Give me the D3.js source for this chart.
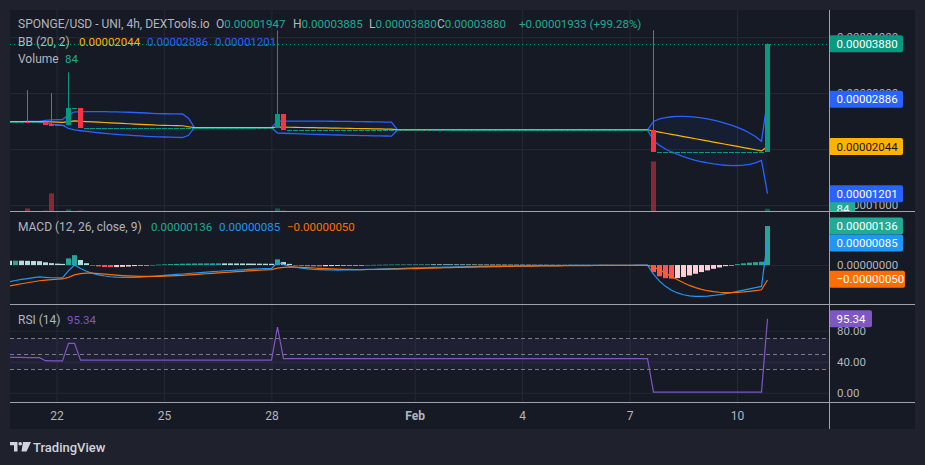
<!DOCTYPE html>
<html>
<head>
<meta charset="utf-8">
<title>SPONGE/USD</title>
<script src="https://cdn.jsdelivr.net/npm/d3@7"></script>
<style>
  body { margin: 0; background: #1f222d; }
  svg { display: block; }
  text { font-family: Roboto, "Noto Sans", sans-serif; }
</style>
</head>
<body>
<svg id="chart" width="925" height="465"></svg>
<script>
// 4h candles that actually traded; the bars in between had no trades and stay flat
const candleTimes = ["2024-01-20 16:00", "2024-01-21 04:00", "2024-01-21 16:00", "2024-01-21 20:00",
  "2024-01-22 08:00", "2024-01-22 16:00", "2024-01-28 04:00", "2024-01-28 08:00",
  "2024-02-07 16:00", "2024-02-10 20:00"];
const opens  = [0.00002490, 0.00002490, 0.00002485, 0.00002455, 0.00002420, 0.00002730, 0.00002380, 0.00002625, 0.00002340, 0.00001947];
const highs  = [0.00002490, 0.00003050, 0.00002485, 0.00003000, 0.00003370, 0.00002730, 0.00004120, 0.00002625, 0.00004120, 0.00003885];
const lows   = [0.00002490, 0.00002485, 0.00002430, 0.00002425, 0.00002420, 0.00002380, 0.00002380, 0.00002340, 0.00001947, 0.00003880];
const closes = [0.00002490, 0.00002485, 0.00002430, 0.00002425, 0.00002730, 0.00002380, 0.00002625, 0.00002340, 0.00001947, 0.00003880];
const volumes = [0, 95, 30, 560, 60, 30, 95, 30, 1550, 84];

const macdStart = { fast: 0.00002494, slow: 0.00002552, signal: -0.00000073 };
const rsiStart = { gain: 0.00000030, loss: 0.00000036 };

// read-outs printed in the legends
const symbolTitle = "SPONGE/USD - UNI, 4h, DEXTools.io";
const macdReadout = [0.00000136, 0.00000085, -0.00000050]; // histogram, macd, signal
const rsiReadout = 95.34;

// axes
const dayTicks = ["2024-01-22", "2024-01-25", "2024-01-28", "2024-02-01", "2024-02-04", "2024-02-07", "2024-02-10"];
const dayLabels = ["22", "25", "28", "Feb", "4", "7", "10"];
const priceTicks = [0.00001, 0.00002, 0.00003, 0.00004];
const macdTicks = [0];
const rsiTicks = [0, 40, 80];
const rsiLevels = [70, 50, 30];

const colors = {
  up: "#089981", down: "#f23645", upVol: "rgba(8,153,129,0.5)", downVol: "rgba(242,54,69,0.5)",
  band: "#2962ff", basis: "#ffb300", macd: "#2196f3", signal: "#ff6d00", rsi: "#7e57c2",
  grid: "#252934", text: "#b2b5be", sep: "#9fa2ab", teal: "#22ab94"
};
const numSize = 11.5;

const plot = { left: 10, right: 829, edge: 915 };
const panes = {
  main: { top: 10, bottom: 211.5 },
  macd: { top: 212, bottom: 304 },
  rsi: { top: 304, bottom: 402 }
};

const svg = d3.select("#chart");
const parseTime = d3.utcParse("%Y-%m-%d %H:%M");
const parseDay = d3.utcParse("%Y-%m-%d");
const fmt = d3.format(".8f");
const step = 4 * 3600 * 1000;

// build the full bar series: traded candles plus flat no-trade bars
const traded = new Map(candleTimes.map((t, i) => [+parseTime(t), i]));
const bars = [];
let prevClose = closes[0];
for (let t = +parseTime(candleTimes[0]); t <= +parseTime(candleTimes[candleTimes.length - 1]); t += step) {
  const k = traded.get(t);
  if (k !== undefined) {
    bars.push({ t: new Date(t), o: opens[k], h: highs[k], l: lows[k], c: closes[k], v: volumes[k] });
    prevClose = closes[k];
  } else {
    bars.push({ t: new Date(t), o: prevClose, h: prevClose, l: prevClose, c: prevClose, v: 0 });
  }
}
const closeSeries = bars.map(d => d.c);

// Bollinger Bands (20, 2)
const bb = closeSeries.map((_, i) => {
  const w = d3.range(i - 19, i + 1).map(j => closeSeries[Math.max(j, 0)]);
  const m = d3.mean(w);
  const sd = Math.sqrt(d3.mean(w, v => (v - m) ** 2));
  return { t: bars[i].t, basis: m, upper: m + 2 * sd, lower: m - 2 * sd };
});

// MACD (12, 26, 9)
function ema(vals, n, init) {
  const a = 2 / (n + 1);
  let e = init;
  return vals.map((v, i) => (i === 0 ? e : (e = e + a * (v - e))));
}
const fast = ema(closeSeries, 12, macdStart.fast);
const slow = ema(closeSeries, 26, macdStart.slow);
const macdLine = fast.map((f, i) => f - slow[i]);
const signalLine = ema(macdLine, 9, macdStart.signal);
const hist = macdLine.map((m, i) => m - signalLine[i]);

// RSI (14)
let avgGain = rsiStart.gain, avgLoss = rsiStart.loss;
const rsi = closeSeries.map((c, i) => {
  if (i > 0) {
    const d = c - closeSeries[i - 1];
    avgGain = (13 * avgGain + Math.max(d, 0)) / 14;
    avgLoss = (13 * avgLoss + Math.max(-d, 0)) / 14;
  }
  return 100 * avgGain / (avgGain + avgLoss);
});

// scales
const x = d3.scaleUtc().domain([parseDay("2024-01-22"), parseDay("2024-02-10")]).range([56.5, 737]);
const yPrice = d3.scaleLinear().domain([0.00000875, 0.00004482]).range([212, 10]);
const yVol = d3.scaleLinear().domain([0, 6200]).range([211.5, 11.5]);
const yMacd = d3.scaleLinear().domain([-0.00000136, 0.00000185]).range([304, 212]);
const yRsi = d3.scaleLinear().domain([0, 100]).range([392.7, 315.2]);
const tickDates = dayTicks.map(parseDay);
const barW = 5;
const cx = d => Math.round(x(d)) + 0.5;

const lastBar = bars[bars.length - 1];
const prevBar = bars[bars.length - 2];
const lastBB = bb[bb.length - 1];

// backgrounds
svg.append("rect").attr("width", 925).attr("height", 465).attr("fill", "#1f222d");
svg.append("rect").attr("x", plot.left).attr("y", 10).attr("width", plot.edge - plot.left).attr("height", 419)
  .attr("fill", "#161a25");

// clip paths
const defs = svg.append("defs");
Object.entries(panes).forEach(([key, p]) => {
  defs.append("clipPath").attr("id", `plot-${key}`).append("rect")
    .attr("x", plot.left).attr("y", p.top).attr("width", plot.right - plot.left).attr("height", p.bottom - p.top);
  defs.append("clipPath").attr("id", `axis-${key}`).append("rect")
    .attr("x", plot.right).attr("y", p.top).attr("width", plot.edge - plot.right).attr("height", p.bottom - p.top);
});

// grids
function grid(pane, y, ticks) {
  const g = svg.append("g").attr("clip-path", `url(#plot-${pane})`);
  const p = panes[pane];
  g.append("g").attr("transform", `translate(0,${p.bottom})`)
    .call(d3.axisBottom(x).tickValues(tickDates).tickSize(-(p.bottom - p.top)).tickFormat(""));
  if (ticks.length) {
    g.append("g").attr("transform", `translate(${plot.left},0)`)
      .call(d3.axisLeft(y).tickValues(ticks).tickSize(-(plot.right - plot.left)).tickFormat(""));
  }
  g.selectAll(".domain").remove();
  g.selectAll("line").attr("stroke", colors.grid);
}
grid("main", yPrice, priceTicks);
grid("macd", yMacd, macdTicks);
grid("rsi", yRsi, rsiTicks);

// ---- main pane ----
const main = svg.append("g").attr("clip-path", "url(#plot-main)");

main.selectAll(".vol").data(bars.filter(d => d.v > 0)).join("rect")
  .attr("x", d => cx(d.t) - barW / 2).attr("width", barW)
  .attr("y", d => yVol(d.v)).attr("height", d => yVol(0) - yVol(d.v))
  .attr("fill", d => (d.c >= d.o ? colors.upVol : colors.downVol));

main.append("path").datum(bb)
  .attr("d", d3.area().x(d => cx(d.t)).y0(d => yPrice(d.lower)).y1(d => yPrice(d.upper)))
  .attr("fill", "rgba(41,98,255,0.06)");
["upper", "lower"].forEach(k => {
  main.append("path").datum(bb)
    .attr("d", d3.line().x(d => cx(d.t)).y(d => yPrice(d[k])))
    .attr("fill", "none").attr("stroke", colors.band).attr("stroke-width", 1.3);
});
main.append("path").datum(bb)
  .attr("d", d3.line().x(d => cx(d.t)).y(d => yPrice(d.basis)))
  .attr("fill", "none").attr("stroke", colors.basis).attr("stroke-width", 1.2);

const candle = main.selectAll(".candle").data(bars).join("g");
// wicks as 1px rects so they stay solid
candle.filter(d => d.h > Math.max(d.o, d.c) || d.l < Math.min(d.o, d.c)).append("rect")
  .attr("x", d => cx(d.t) - 0.5).attr("width", 1)
  .attr("y", d => yPrice(d.h)).attr("height", d => yPrice(Math.min(d.l, d.o, d.c)) - yPrice(d.h))
  .attr("fill", d => (d.c >= d.o ? colors.up : colors.down));
candle.append("rect")
  .attr("x", d => cx(d.t) - barW / 2).attr("width", barW)
  .attr("y", d => Math.round(yPrice(Math.max(d.o, d.c))))
  .attr("height", d => Math.max(1, Math.round(yPrice(Math.min(d.o, d.c)) - yPrice(Math.max(d.o, d.c)))))
  .attr("fill", d => (d.c >= d.o ? colors.up : colors.down));

main.append("line")
  .attr("x1", plot.left).attr("x2", plot.right)
  .attr("y1", Math.round(yPrice(lastBar.c)) + 0.5).attr("y2", Math.round(yPrice(lastBar.c)) + 0.5)
  .attr("stroke", colors.up).attr("stroke-dasharray", "1,3");

// ---- MACD pane ----
const macdG = svg.append("g").attr("clip-path", "url(#plot-macd)");
macdG.selectAll("rect").data(hist).join("rect")
  .attr("x", (d, i) => cx(bars[i].t) - barW / 2).attr("width", barW)
  .attr("y", d => Math.min(yMacd(d), yMacd(0)))
  .attr("height", d => Math.max(0.6, Math.abs(yMacd(d) - yMacd(0))))
  .attr("fill", (d, i) => {
    const p = i > 0 ? hist[i - 1] : d;
    if (d >= 0) return p < d ? "#26a69a" : "#b2dfdb";
    return p < d ? "#ffcdd2" : "#ff5252";
  });
[[macdLine, colors.macd], [signalLine, colors.signal]].forEach(([s, c]) => {
  macdG.append("path").datum(s)
    .attr("d", d3.line().x((d, i) => cx(bars[i].t)).y(d => yMacd(d)))
    .attr("fill", "none").attr("stroke", c).attr("stroke-width", 1.2);
});

// ---- RSI pane ----
const rsiG = svg.append("g").attr("clip-path", "url(#plot-rsi)");
rsiG.append("rect").attr("x", plot.left).attr("width", plot.right - plot.left)
  .attr("y", yRsi(70)).attr("height", yRsi(30) - yRsi(70)).attr("fill", "rgba(126,87,194,0.1)");
rsiG.selectAll(".lvl").data(rsiLevels).join("line")
  .attr("x1", plot.left).attr("x2", plot.right)
  .attr("y1", d => Math.round(yRsi(d)) + 0.5).attr("y2", d => Math.round(yRsi(d)) + 0.5)
  .attr("stroke", "#787b86").attr("stroke-dasharray", "4,3");
rsiG.append("path").datum(rsi)
  .attr("d", d3.line().x((d, i) => cx(bars[i].t)).y(d => yRsi(d)))
  .attr("fill", "none").attr("stroke", colors.rsi).attr("stroke-width", 1.2);

// ---- axes ----
// tags on the price scale; a tick label sitting right under a tag is hidden, as TradingView does
const mainTags = [
  { y: yVol(lastBar.v), label: String(lastBar.v), fill: "#22ab94", color: "#ffffff", w: 26 },
  { y: yPrice(lastBB.lower), label: fmt(lastBB.lower), fill: colors.band, color: "#ffffff" },
  { y: yPrice(lastBB.basis), label: fmt(lastBB.basis), fill: colors.basis, color: "#131722" },
  { y: yPrice(lastBB.upper), label: fmt(lastBB.upper), fill: colors.band, color: "#ffffff" },
  { y: yPrice(lastBar.c), label: fmt(lastBar.c), fill: colors.up, color: "#ffffff" }
];

function styleAxis(size) {
  return g => {
    g.select(".domain").remove();
    g.attr("font-family", null).attr("font-size", null);
    g.selectAll("text").attr("fill", colors.text).attr("font-size", size);
  };
}
function priceAxis(pane, y, ticks, f, tags = []) {
  const shown = ticks.filter(t => !tags.some(tg => Math.abs(tg.y - y(t)) < 3));
  return svg.append("g").attr("clip-path", `url(#axis-${pane})`)
    .append("g").attr("transform", `translate(${plot.right},0)`)
    .call(d3.axisRight(y).tickValues(shown).tickSize(0).tickPadding(8).tickFormat(f))
    .call(styleAxis(numSize));
}
priceAxis("main", yPrice, priceTicks, fmt, mainTags);
priceAxis("macd", yMacd, macdTicks, fmt);
priceAxis("rsi", yRsi, rsiTicks, d3.format(".2f"));

svg.append("g").attr("transform", `translate(0,${panes.rsi.bottom})`)
  .call(d3.axisBottom(x).tickValues(tickDates).tickSize(0).tickPadding(9.5).tickFormat((d, i) => dayLabels[i]))
  .call(styleAxis(12))
  .selectAll("text").attr("font-weight", (d, i) => (dayLabels[i] === "Feb" ? "bold" : null));

function tag(pane, y, label, fill, color, width = 74) {
  const g = svg.append("g").attr("clip-path", `url(#axis-${pane})`)
    .append("g").attr("transform", `translate(${plot.right},${y})`);
  g.append("rect").attr("y", -8.5).attr("width", width).attr("height", 17).attr("rx", 2).attr("fill", fill);
  g.append("text").attr("x", 7.5).attr("dy", "0.35em").attr("font-size", numSize).attr("fill", color).text(label);
}
mainTags.forEach(d => tag("main", d.y, d.label, d.fill, d.color, d.w));

// MACD tags, pushed apart so they do not overlap
const macdTags = [
  { v: macdReadout[0], fill: "#22ab94" },
  { v: macdReadout[1], fill: colors.macd },
  { v: macdReadout[2], fill: colors.signal }
].map(d => ({ ...d, y: yMacd(d.v) })).sort((a, b) => a.y - b.y);
macdTags.forEach((d, i) => { if (i > 0) d.y = Math.max(d.y, macdTags[i - 1].y + 17); });
macdTags.forEach(d => tag("macd", d.y, fmt(d.v), d.fill, "#ffffff", d.v < 0 ? 76 : 74));
tag("rsi", yRsi(rsiReadout), rsiReadout.toFixed(2), colors.rsi, "#ffffff", 43);

// separators
const sep = svg.append("g").attr("stroke", colors.sep).attr("stroke-width", 1);
[panes.main.bottom, panes.macd.bottom, panes.rsi.bottom].forEach(y => {
  const yy = Math.floor(y) + 0.5;
  sep.append("line").attr("x1", plot.left).attr("x2", plot.edge).attr("y1", yy).attr("y2", yy);
});
sep.append("line").attr("x1", plot.right + 0.5).attr("x2", plot.right + 0.5).attr("y1", 10).attr("y2", 429);

// ---- legends ----
function legendLine(y, parts) {
  parts.forEach(([px, segs]) => {
    const t = svg.append("text").attr("x", px).attr("y", y).attr("dy", "0.35em").attr("font-size", 12);
    segs.forEach(([s, c, num]) => t.append("tspan").attr("fill", c).attr("font-size", num ? numSize : null).text(s));
  });
}
const chg = lastBar.c - prevBar.c;
legendLine(24, [
  [18, [[symbolTitle, colors.text]]],
  [216, [["O", colors.text], [fmt(lastBar.o), colors.teal, 1]]],
  [293, [["H", colors.text], [fmt(lastBar.h), colors.teal, 1]]],
  [369, [["L", colors.text], [fmt(lastBar.l), colors.teal, 1]]],
  [437, [["C", colors.text], [fmt(lastBar.c), colors.teal, 1]]],
  [519, [[`+${fmt(chg)} (+${(chg / prevBar.c * 100).toFixed(2)}%)`, colors.teal, 1]]]
]);
legendLine(42, [
  [18, [["BB (20, 2)", colors.text]]],
  [79, [[fmt(lastBB.basis), colors.basis, 1]]],
  [147, [[fmt(lastBB.upper), colors.band, 1]]],
  [215, [[fmt(lastBB.lower), colors.band, 1]]]
]);
legendLine(59, [
  [18, [["Volume", colors.text]]],
  [65, [[String(lastBar.v), colors.teal, 1]]]
]);
legendLine(226.5, [
  [18, [["MACD (12, 26, close, 9)", colors.text]]],
  [151, [[fmt(macdReadout[0]), colors.teal, 1]]],
  [219, [[fmt(macdReadout[1]), colors.macd, 1]]],
  [287, [[fmt(macdReadout[2]), colors.signal, 1]]]
]);
legendLine(320, [
  [18, [["RSI (14)", colors.text]]],
  [67, [[rsiReadout.toFixed(2), colors.rsi, 1]]]
]);

// TradingView mark
const logo = svg.append("g").attr("fill", "#d1d4dc");
logo.append("path").attr("d", "M10,442H17.5V451.5H14V445.3H10Z");
logo.append("circle").attr("cx", 20.2).attr("cy", 443.8).attr("r", 1.8);
logo.append("path").attr("d", "M23,442H31L26.5,451.5H21.5Z");
svg.append("text").attr("x", 33).attr("y", 447).attr("dy", "0.35em")
  .attr("font-size", 13).attr("font-weight", 500).attr("fill", "#d1d4dc").text("TradingView");
</script>
</body>
</html>
